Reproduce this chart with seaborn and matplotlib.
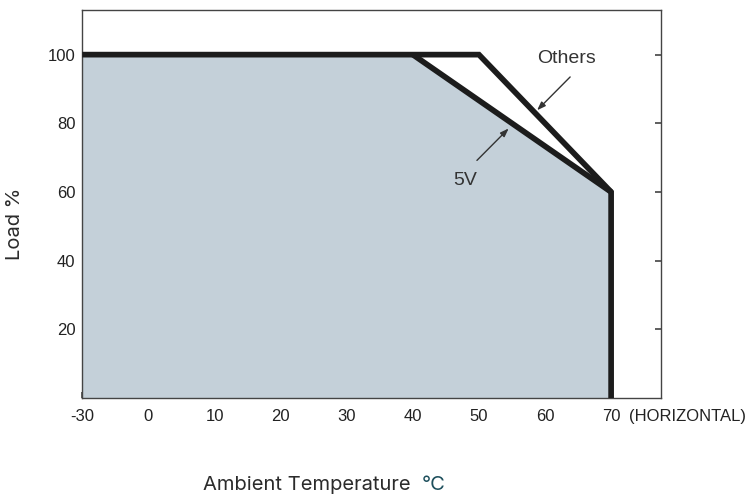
import matplotlib
matplotlib.use("Agg")
import matplotlib.pyplot as plt
from matplotlib import font_manager
import seaborn as sns
import pandas as pd

# ---- data ----
others_temp = [-30, 50, 70, 70]
others_load = [100, 100, 60, 0]
v5_temp = [40, 70]
v5_load = [100, 60]
area_temp = [-30, 40, 70]
area_load = [100, 100, 60]
x_tick_values = [-30, 0, 10, 20, 30, 40, 50, 60, 70]
x_tick_labels = ["-30", "0", "10", "20", "30", "40", "50", "60", "70"]
y_tick_values = [20, 40, 60, 80, 100]
y_tick_labels = ["20", "40", "60", "80", "100"]


def pos(t):
    # broken temperature axis: the -30..0 span is compressed into one grid step
    return t if t >= 0 else t / 3.0


sns.set_style("ticks")

available = {f.name for f in font_manager.fontManager.ttflist}
if "Liberation Sans Narrow" in available:
    NARROW = ["Liberation Sans Narrow", "DejaVu Sans"]
    nstretch = "normal"
    tick_fs = 12.5
else:
    NARROW = ["Liberation Sans", "DejaVu Sans"]
    nstretch = "normal"
    tick_fs = 12.0
LABEL = ["Inter", "DejaVu Sans"]

fig = plt.figure(figsize=(7.5, 4.98), dpi=100)
ax = fig.add_axes([82.3 / 750, 100 / 498, (660.7 - 82.3) / 750, (398 - 10) / 498])

line_c = "#1c1c1c"
fill_c = "#c4d0d9"

area_df = pd.DataFrame({"x": [pos(t) for t in area_temp], "y": area_load})
ax.fill_between(area_df["x"], 0, area_df["y"], color=fill_c, lw=0, zorder=1)

others_df = pd.DataFrame({"x": [pos(t) for t in others_temp], "y": others_load})
v5_df = pd.DataFrame({"x": [pos(t) for t in v5_temp], "y": v5_load})
sns.lineplot(data=others_df, x="x", y="y", sort=False, estimator=None, ax=ax,
             color=line_c, lw=4.1, zorder=3, solid_joinstyle="miter",
             solid_capstyle="butt")
sns.lineplot(data=v5_df, x="x", y="y", sort=False, estimator=None, ax=ax,
             color=line_c, lw=4.1, zorder=3, solid_joinstyle="miter",
             solid_capstyle="butt")

ax.set_xlim(-10, 77.5)
ax.set_ylim(0, 113)
ax.set_xlabel("")
ax.set_ylabel("")

ax.set_xticks([pos(t) for t in x_tick_values])
ax.set_xticklabels(x_tick_labels, family=NARROW, fontsize=tick_fs, color="#222222")
ax.set_yticks(y_tick_values)
ax.set_yticklabels(y_tick_labels, family=NARROW, fontsize=tick_fs, color="#222222")

ax.tick_params(axis="both", direction="in", length=4.5, width=1.1, color="#333333")
ax.tick_params(axis="x", pad=8)
ax.tick_params(axis="y", pad=5, right=True)

for s in ax.spines.values():
    s.set_visible(True)
    s.set_color("#444444")
    s.set_linewidth(1.0)

ax.annotate("(HORIZONTAL)", xy=(72.7, 0), xycoords=("data", "axes fraction"),
            xytext=(0, -8), textcoords="offset points", ha="left", va="top",
            family=NARROW, fontsize=tick_fs, color="#222222", annotation_clip=False)

arrow_kw = dict(arrowstyle="-|>,head_length=0.5,head_width=0.18", color="#333333", lw=1.0,
                shrinkA=0, shrinkB=0)
ax.annotate("", xy=(58.8, 83.8), xytext=(63.8, 93.5), arrowprops=arrow_kw, zorder=5)
ax.text(63.3, 98.8, "Others", ha="center", va="center", family=NARROW,
        fontsize=14, color="#333333")
ax.annotate("", xy=(54.5, 78.5), xytext=(49.7, 69.2), arrowprops=arrow_kw, zorder=5)
ax.text(47.9, 63.4, "5V", ha="center", va="center", family=NARROW,
        fontsize=14, color="#333333")

fig.text(15 / 750, 1 - 224 / 498, "Load %", rotation=90, ha="center", va="center",
         family=LABEL, fontsize=14.5, color="#2b2b2b")
fig.text(203 / 750, 1 - 485 / 498, "Ambient Temperature", ha="left", va="center",
         family=LABEL, fontsize=14.5, color="#2b2b2b")
fig.text(421.7 / 750, 1 - 485 / 498, "°C", ha="left", va="center",
         family=LABEL, fontsize=14.5, color="#1d4f5c")

fig.savefig("out.png", dpi=100)
